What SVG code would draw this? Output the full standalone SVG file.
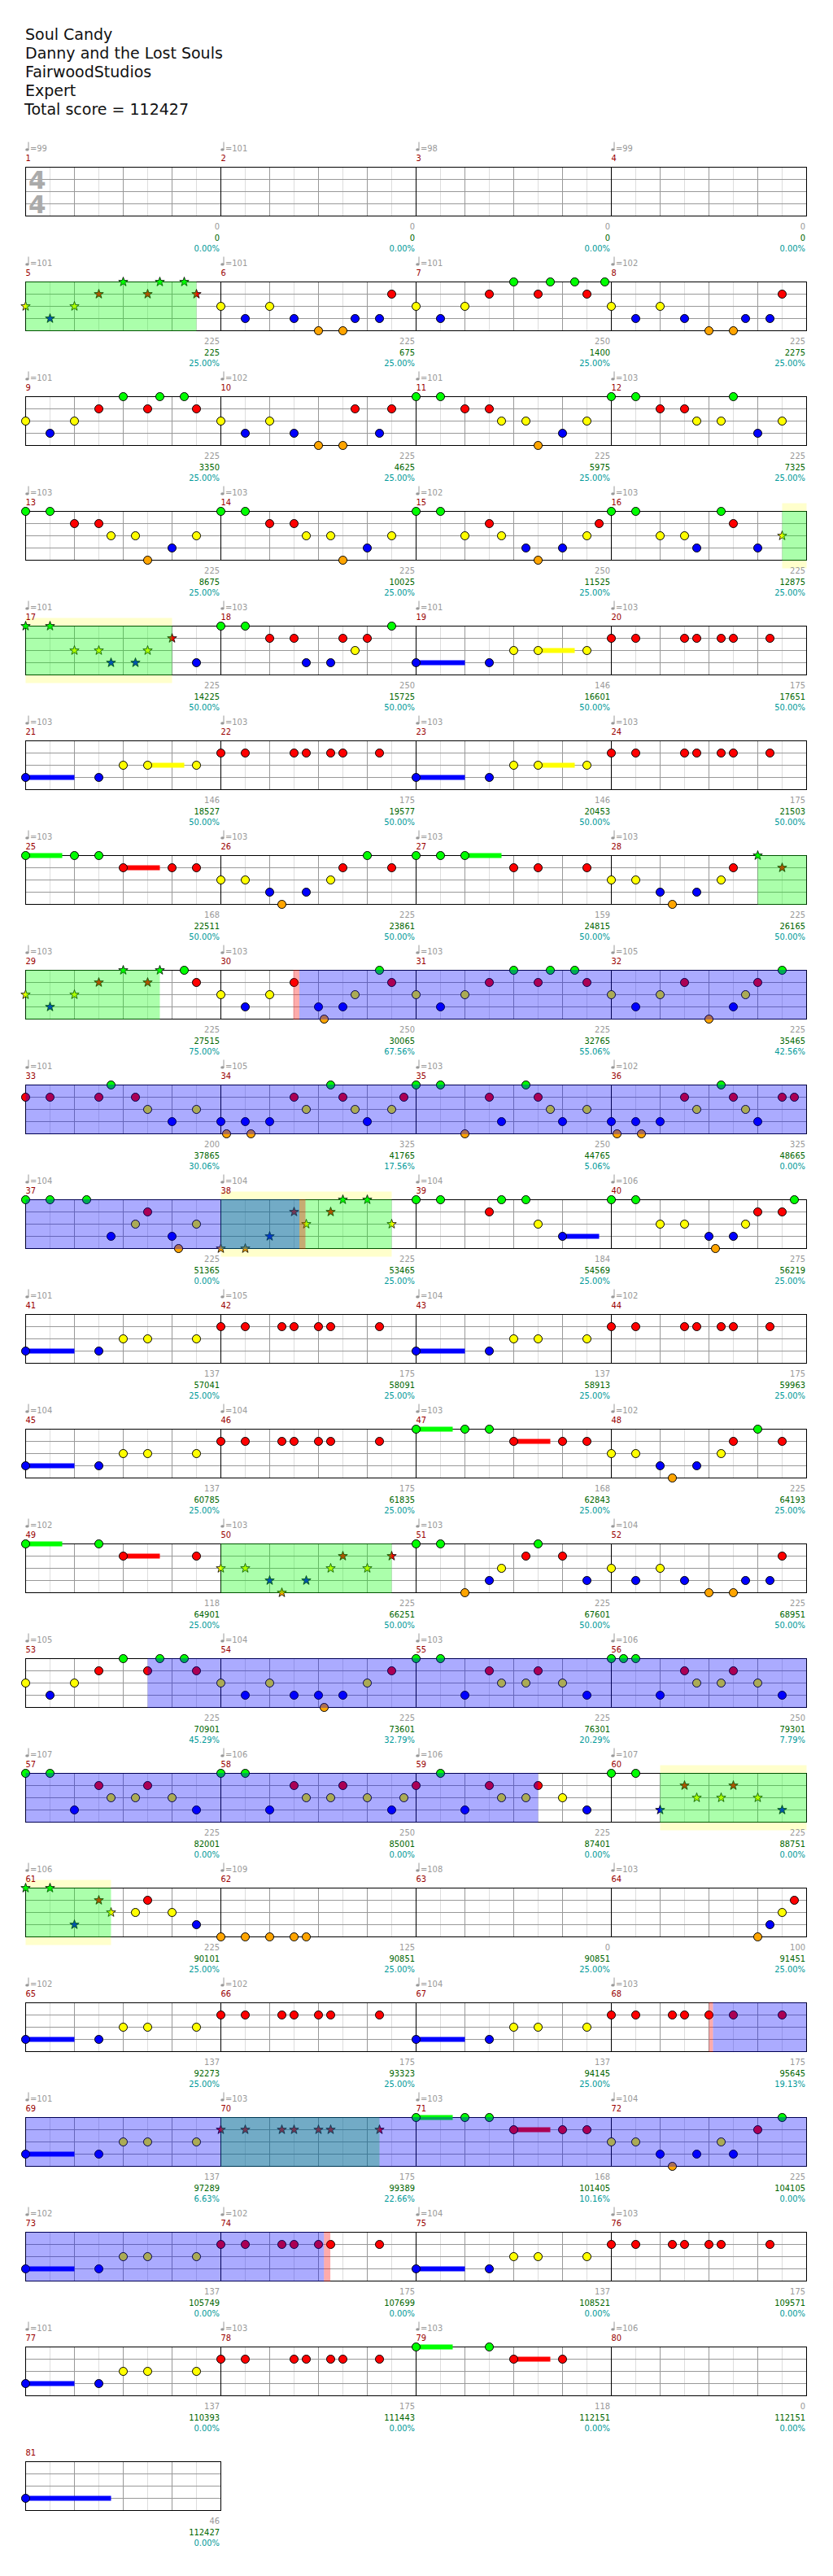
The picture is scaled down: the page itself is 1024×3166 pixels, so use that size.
<svg xmlns="http://www.w3.org/2000/svg" xmlns:xlink="http://www.w3.org/1999/xlink" width="1024" height="3166" viewBox="0 0 1024 3166">
<defs>
<style>
text{font-family:'DejaVu Sans Condensed','DejaVu Sans',sans-serif;font-stretch:condensed;font-size:11px}
.t{font-family:'DejaVu Sans',sans-serif;font-stretch:normal;font-size:19px;fill:#111}
.tp{fill:#999}
.mn{fill:#990000}
.s1{fill:#999;text-anchor:end}
.s2{fill:#006600;text-anchor:end}
.s3{fill:#009999;text-anchor:end}
.ts{font-family:'DejaVu Sans',sans-serif;font-stretch:normal;font-weight:bold;font-size:31px;fill:#aaa}
.n{stroke:#000;stroke-width:1}
.st{stroke:#000;stroke-width:0.8}
.cg{fill:#00ff00}.cr{fill:#ff0000}.cy{fill:#ffff00}.cb{fill:#0000ff}.co{fill:#ffa500}
.og{fill:#00ff00;fill-opacity:.33}
.ob{fill:#0000ff;fill-opacity:.33}
.orr{fill:#ff0000;fill-opacity:.33}
.hl{fill:#ffffcc}
</style>
<circle id="G" class="n cg" r="5"/>
<circle id="R" class="n cr" cy="15" r="5"/>
<circle id="Y" class="n cy" cy="30" r="5"/>
<circle id="B" class="n cb" cy="45" r="5"/>
<circle id="O" class="n co" cy="60" r="5"/>
<path id="sG" class="st cg" d="M0,-6L1.41,-1.94L5.71,-1.85L2.28,0.74L3.53,4.85L0,2.4L-3.53,4.85L-2.28,0.74L-5.71,-1.85L-1.41,-1.94Z"/>
<path id="sR" class="st cr" transform="translate(0,15)" d="M0,-6L1.41,-1.94L5.71,-1.85L2.28,0.74L3.53,4.85L0,2.4L-3.53,4.85L-2.28,0.74L-5.71,-1.85L-1.41,-1.94Z"/>
<path id="sY" class="st cy" transform="translate(0,30)" d="M0,-6L1.41,-1.94L5.71,-1.85L2.28,0.74L3.53,4.85L0,2.4L-3.53,4.85L-2.28,0.74L-5.71,-1.85L-1.41,-1.94Z"/>
<path id="sB" class="st cb" transform="translate(0,45)" d="M0,-6L1.41,-1.94L5.71,-1.85L2.28,0.74L3.53,4.85L0,2.4L-3.53,4.85L-2.28,0.74L-5.71,-1.85L-1.41,-1.94Z"/>
<path id="sO" class="st co" transform="translate(0,60)" d="M0,-6L1.41,-1.94L5.71,-1.85L2.28,0.74L3.53,4.85L0,2.4L-3.53,4.85L-2.28,0.74L-5.71,-1.85L-1.41,-1.94Z"/>
<g id="tq"><path d="M3.5,-31V-21.5" stroke="#999" fill="none"/><ellipse cx="1.9" cy="-21.6" rx="2.2" ry="1.6" fill="#999"/></g>
<g id="mg">
<path d="M30,0V60M90,0V60M150,0V60M210,0V60" stroke="#ddd"/>
<path d="M60,0V60M120,0V60M180,0V60M0,15H240M0,30H240M0,45H240" stroke="#999"/>
</g>
<g id="rowbase">
<rect width="960" height="60" fill="#fff"/>
<use href="#mg"/><use href="#mg" x="240"/><use href="#mg" x="480"/><use href="#mg" x="720"/>
<rect width="960" height="60" fill="none" stroke="#000"/>
<path d="M240,0V60M480,0V60M720,0V60" stroke="#000"/>
</g>
<g id="mbase">
<rect width="240" height="60" fill="#fff"/>
<use href="#mg"/>
<rect width="240" height="60" fill="none" stroke="#000"/>
</g>
</defs>
<rect width="1024" height="3166" fill="#fff"/>
<g id="header">
<text class="t" x="31" y="49">Soul Candy</text>
<text class="t" x="31" y="72">Danny and the Lost Souls</text>
<text class="t" x="31" y="95">FairwoodStudios</text>
<text class="t" x="31" y="118">Expert</text>
<text class="t" x="30" y="141">Total score = 112427</text>
</g>

<g id="row1" transform="translate(31.5,205.5)">
<use href="#rowbase"/>
<text class="ts" x="3.5" y="26.8">4</text><text class="ts" x="3.5" y="56.8">4</text>
<g id="m1"><use href="#tq"/><text class="tp" x="5.5" y="-20">=99</text><text class="mn" y="-8">1</text><text class="s1" x="238.5" y="76.5">0</text><text class="s2" x="238.5" y="90">0</text><text class="s3" x="238.5" y="103">0.00%</text></g>
<g id="m2" transform="translate(240,0)"><use href="#tq"/><text class="tp" x="5.5" y="-20">=101</text><text class="mn" y="-8">2</text><text class="s1" x="238.5" y="76.5">0</text><text class="s2" x="238.5" y="90">0</text><text class="s3" x="238.5" y="103">0.00%</text></g>
<g id="m3" transform="translate(480,0)"><use href="#tq"/><text class="tp" x="5.5" y="-20">=98</text><text class="mn" y="-8">3</text><text class="s1" x="238.5" y="76.5">0</text><text class="s2" x="238.5" y="90">0</text><text class="s3" x="238.5" y="103">0.00%</text></g>
<g id="m4" transform="translate(720,0)"><use href="#tq"/><text class="tp" x="5.5" y="-20">=99</text><text class="mn" y="-8">4</text><text class="s1" x="238.5" y="76.5">0</text><text class="s2" x="238.5" y="90">0</text><text class="s3" x="238.5" y="103">0.00%</text></g>
</g>

<g id="row2" transform="translate(31.5,346.5)">
<use href="#rowbase"/>
<g id="m5"><use href="#tq"/><text class="tp" x="5.5" y="-20">=101</text><text class="mn" y="-8">5</text>
<use href="#sY" x="0"/><use href="#sB" x="30"/><use href="#sY" x="60"/><use href="#sR" x="90"/><use href="#sG" x="120"/><use href="#sR" x="150"/><use href="#sG" x="165"/><use href="#sG" x="195"/><use href="#sR" x="210"/>
<text class="s1" x="238.5" y="76.5">225</text><text class="s2" x="238.5" y="90">225</text><text class="s3" x="238.5" y="103">25.00%</text></g>
<g id="m6" transform="translate(240,0)"><use href="#tq"/><text class="tp" x="5.5" y="-20">=101</text><text class="mn" y="-8">6</text>
<use href="#Y" x="0"/><use href="#B" x="30"/><use href="#Y" x="60"/><use href="#B" x="90"/><use href="#O" x="120"/><use href="#O" x="150"/><use href="#B" x="165"/><use href="#B" x="195"/><use href="#R" x="210"/>
<text class="s1" x="238.5" y="76.5">225</text><text class="s2" x="238.5" y="90">675</text><text class="s3" x="238.5" y="103">25.00%</text></g>
<g id="m7" transform="translate(480,0)"><use href="#tq"/><text class="tp" x="5.5" y="-20">=101</text><text class="mn" y="-8">7</text>
<use href="#Y" x="0"/><use href="#B" x="30"/><use href="#Y" x="60"/><use href="#R" x="90"/><use href="#G" x="120"/><use href="#R" x="150"/><use href="#G" x="165"/><use href="#G" x="195"/><use href="#R" x="210"/><use href="#G" x="232"/>
<text class="s1" x="238.5" y="76.5">250</text><text class="s2" x="238.5" y="90">1400</text><text class="s3" x="238.5" y="103">25.00%</text></g>
<g id="m8" transform="translate(720,0)"><use href="#tq"/><text class="tp" x="5.5" y="-20">=102</text><text class="mn" y="-8">8</text>
<use href="#Y" x="0"/><use href="#B" x="30"/><use href="#Y" x="60"/><use href="#B" x="90"/><use href="#O" x="120"/><use href="#O" x="150"/><use href="#B" x="165"/><use href="#B" x="195"/><use href="#R" x="210"/>
<text class="s1" x="238.5" y="76.5">225</text><text class="s2" x="238.5" y="90">2275</text><text class="s3" x="238.5" y="103">25.00%</text></g>
<rect class="og" x="0" y="-0.5" width="210" height="61"/>
</g>

<g id="row3" transform="translate(31.5,487.5)">
<use href="#rowbase"/>
<g id="m9"><use href="#tq"/><text class="tp" x="5.5" y="-20">=101</text><text class="mn" y="-8">9</text>
<use href="#Y" x="0"/><use href="#B" x="30"/><use href="#Y" x="60"/><use href="#R" x="90"/><use href="#G" x="120"/><use href="#R" x="150"/><use href="#G" x="165"/><use href="#G" x="195"/><use href="#R" x="210"/>
<text class="s1" x="238.5" y="76.5">225</text><text class="s2" x="238.5" y="90">3350</text><text class="s3" x="238.5" y="103">25.00%</text></g>
<g id="m10" transform="translate(240,0)"><use href="#tq"/><text class="tp" x="5.5" y="-20">=102</text><text class="mn" y="-8">10</text>
<use href="#Y" x="0"/><use href="#B" x="30"/><use href="#Y" x="60"/><use href="#B" x="90"/><use href="#O" x="120"/><use href="#O" x="150"/><use href="#R" x="165"/><use href="#B" x="195"/><use href="#R" x="210"/>
<text class="s1" x="238.5" y="76.5">225</text><text class="s2" x="238.5" y="90">4625</text><text class="s3" x="238.5" y="103">25.00%</text></g>
<g id="m11" transform="translate(480,0)"><use href="#tq"/><text class="tp" x="5.5" y="-20">=101</text><text class="mn" y="-8">11</text>
<use href="#G" x="0"/><use href="#G" x="30"/><use href="#R" x="60"/><use href="#R" x="90"/><use href="#Y" x="105"/><use href="#Y" x="135"/><use href="#O" x="150"/><use href="#B" x="180"/><use href="#Y" x="210"/>
<text class="s1" x="238.5" y="76.5">225</text><text class="s2" x="238.5" y="90">5975</text><text class="s3" x="238.5" y="103">25.00%</text></g>
<g id="m12" transform="translate(720,0)"><use href="#tq"/><text class="tp" x="5.5" y="-20">=103</text><text class="mn" y="-8">12</text>
<use href="#G" x="0"/><use href="#G" x="30"/><use href="#R" x="60"/><use href="#R" x="90"/><use href="#Y" x="105"/><use href="#Y" x="135"/><use href="#G" x="150"/><use href="#B" x="180"/><use href="#Y" x="210"/>
<text class="s1" x="238.5" y="76.5">225</text><text class="s2" x="238.5" y="90">7325</text><text class="s3" x="238.5" y="103">25.00%</text></g>
</g>

<g id="row4" transform="translate(31.5,628.5)">
<rect class="hl" x="930" y="-10" width="30" height="80"/>
<use href="#rowbase"/>
<g id="m13"><use href="#tq"/><text class="tp" x="5.5" y="-20">=103</text><text class="mn" y="-8">13</text>
<use href="#G" x="0"/><use href="#G" x="30"/><use href="#R" x="60"/><use href="#R" x="90"/><use href="#Y" x="105"/><use href="#Y" x="135"/><use href="#O" x="150"/><use href="#B" x="180"/><use href="#Y" x="210"/>
<text class="s1" x="238.5" y="76.5">225</text><text class="s2" x="238.5" y="90">8675</text><text class="s3" x="238.5" y="103">25.00%</text></g>
<g id="m14" transform="translate(240,0)"><use href="#tq"/><text class="tp" x="5.5" y="-20">=103</text><text class="mn" y="-8">14</text>
<use href="#G" x="0"/><use href="#G" x="30"/><use href="#R" x="60"/><use href="#R" x="90"/><use href="#Y" x="105"/><use href="#Y" x="135"/><use href="#O" x="150"/><use href="#B" x="180"/><use href="#Y" x="210"/>
<text class="s1" x="238.5" y="76.5">225</text><text class="s2" x="238.5" y="90">10025</text><text class="s3" x="238.5" y="103">25.00%</text></g>
<g id="m15" transform="translate(480,0)"><use href="#tq"/><text class="tp" x="5.5" y="-20">=102</text><text class="mn" y="-8">15</text>
<use href="#G" x="0"/><use href="#G" x="30"/><use href="#Y" x="60"/><use href="#R" x="90"/><use href="#Y" x="105"/><use href="#B" x="135"/><use href="#O" x="150"/><use href="#B" x="180"/><use href="#Y" x="210"/><use href="#R" x="225"/>
<text class="s1" x="238.5" y="76.5">250</text><text class="s2" x="238.5" y="90">11525</text><text class="s3" x="238.5" y="103">25.00%</text></g>
<g id="m16" transform="translate(720,0)"><use href="#tq"/><text class="tp" x="5.5" y="-20">=103</text><text class="mn" y="-8">16</text>
<use href="#G" x="0"/><use href="#G" x="30"/><use href="#Y" x="60"/><use href="#Y" x="90"/><use href="#B" x="105"/><use href="#G" x="135"/><use href="#R" x="150"/><use href="#B" x="180"/><use href="#sY" x="210"/>
<text class="s1" x="238.5" y="76.5">225</text><text class="s2" x="238.5" y="90">12875</text><text class="s3" x="238.5" y="103">25.00%</text></g>
<rect class="og" x="930" y="-0.5" width="30" height="61"/>
</g>

<g id="row5" transform="translate(31.5,769.5)">
<rect class="hl" x="0" y="-10" width="180" height="80"/>
<use href="#rowbase"/>
<g id="m17"><use href="#tq"/><text class="tp" x="5.5" y="-20">=101</text><text class="mn" y="-8">17</text>
<use href="#sG" x="0"/><use href="#sG" x="30"/><use href="#sY" x="60"/><use href="#sY" x="90"/><use href="#sB" x="105"/><use href="#sB" x="135"/><use href="#sY" x="150"/><use href="#sR" x="180"/><use href="#B" x="210"/>
<text class="s1" x="238.5" y="76.5">225</text><text class="s2" x="238.5" y="90">14225</text><text class="s3" x="238.5" y="103">50.00%</text></g>
<g id="m18" transform="translate(240,0)"><use href="#tq"/><text class="tp" x="5.5" y="-20">=103</text><text class="mn" y="-8">18</text>
<use href="#G" x="0"/><use href="#G" x="30"/><use href="#R" x="60"/><use href="#R" x="90"/><use href="#B" x="105"/><use href="#B" x="135"/><use href="#R" x="150"/><use href="#Y" x="165"/><use href="#R" x="180"/><use href="#G" x="210"/>
<text class="s1" x="238.5" y="76.5">250</text><text class="s2" x="238.5" y="90">15725</text><text class="s3" x="238.5" y="103">50.00%</text></g>
<g id="m19" transform="translate(480,0)"><use href="#tq"/><text class="tp" x="5.5" y="-20">=101</text><text class="mn" y="-8">19</text>
<rect class="cb" x="0" y="42" width="60" height="6"/><rect class="cy" x="150" y="27" width="45" height="6"/>
<use href="#B" x="0"/><use href="#B" x="90"/><use href="#Y" x="120"/><use href="#Y" x="150"/><use href="#Y" x="210"/>
<text class="s1" x="238.5" y="76.5">146</text><text class="s2" x="238.5" y="90">16601</text><text class="s3" x="238.5" y="103">50.00%</text></g>
<g id="m20" transform="translate(720,0)"><use href="#tq"/><text class="tp" x="5.5" y="-20">=103</text><text class="mn" y="-8">20</text>
<use href="#R" x="0"/><use href="#R" x="30"/><use href="#R" x="90"/><use href="#R" x="105"/><use href="#R" x="135"/><use href="#R" x="150"/><use href="#R" x="195"/>
<text class="s1" x="238.5" y="76.5">175</text><text class="s2" x="238.5" y="90">17651</text><text class="s3" x="238.5" y="103">50.00%</text></g>
<rect class="og" x="0" y="-0.5" width="180" height="61"/>
</g>

<g id="row6" transform="translate(31.5,910.5)">
<use href="#rowbase"/>
<g id="m21"><use href="#tq"/><text class="tp" x="5.5" y="-20">=103</text><text class="mn" y="-8">21</text>
<rect class="cb" x="0" y="42" width="60" height="6"/><rect class="cy" x="150" y="27" width="45" height="6"/>
<use href="#B" x="0"/><use href="#B" x="90"/><use href="#Y" x="120"/><use href="#Y" x="150"/><use href="#Y" x="210"/>
<text class="s1" x="238.5" y="76.5">146</text><text class="s2" x="238.5" y="90">18527</text><text class="s3" x="238.5" y="103">50.00%</text></g>
<g id="m22" transform="translate(240,0)"><use href="#tq"/><text class="tp" x="5.5" y="-20">=103</text><text class="mn" y="-8">22</text>
<use href="#R" x="0"/><use href="#R" x="30"/><use href="#R" x="90"/><use href="#R" x="105"/><use href="#R" x="135"/><use href="#R" x="150"/><use href="#R" x="195"/>
<text class="s1" x="238.5" y="76.5">175</text><text class="s2" x="238.5" y="90">19577</text><text class="s3" x="238.5" y="103">50.00%</text></g>
<g id="m23" transform="translate(480,0)"><use href="#tq"/><text class="tp" x="5.5" y="-20">=103</text><text class="mn" y="-8">23</text>
<rect class="cb" x="0" y="42" width="60" height="6"/><rect class="cy" x="150" y="27" width="45" height="6"/>
<use href="#B" x="0"/><use href="#B" x="90"/><use href="#Y" x="120"/><use href="#Y" x="150"/><use href="#Y" x="210"/>
<text class="s1" x="238.5" y="76.5">146</text><text class="s2" x="238.5" y="90">20453</text><text class="s3" x="238.5" y="103">50.00%</text></g>
<g id="m24" transform="translate(720,0)"><use href="#tq"/><text class="tp" x="5.5" y="-20">=103</text><text class="mn" y="-8">24</text>
<use href="#R" x="0"/><use href="#R" x="30"/><use href="#R" x="90"/><use href="#R" x="105"/><use href="#R" x="135"/><use href="#R" x="150"/><use href="#R" x="195"/>
<text class="s1" x="238.5" y="76.5">175</text><text class="s2" x="238.5" y="90">21503</text><text class="s3" x="238.5" y="103">50.00%</text></g>
</g>

<g id="row7" transform="translate(31.5,1051.5)">
<use href="#rowbase"/>
<g id="m25"><use href="#tq"/><text class="tp" x="5.5" y="-20">=103</text><text class="mn" y="-8">25</text>
<rect class="cg" x="0" y="-3" width="45" height="6"/><rect class="cr" x="120" y="12" width="45" height="6"/>
<use href="#G" x="0"/><use href="#G" x="60"/><use href="#G" x="90"/><use href="#R" x="120"/><use href="#R" x="180"/><use href="#R" x="210"/>
<text class="s1" x="238.5" y="76.5">168</text><text class="s2" x="238.5" y="90">22511</text><text class="s3" x="238.5" y="103">50.00%</text></g>
<g id="m26" transform="translate(240,0)"><use href="#tq"/><text class="tp" x="5.5" y="-20">=103</text><text class="mn" y="-8">26</text>
<use href="#Y" x="0"/><use href="#Y" x="30"/><use href="#B" x="60"/><use href="#O" x="75"/><use href="#B" x="105"/><use href="#Y" x="135"/><use href="#R" x="150"/><use href="#G" x="180"/><use href="#R" x="210"/>
<text class="s1" x="238.5" y="76.5">225</text><text class="s2" x="238.5" y="90">23861</text><text class="s3" x="238.5" y="103">50.00%</text></g>
<g id="m27" transform="translate(480,0)"><use href="#tq"/><text class="tp" x="5.5" y="-20">=103</text><text class="mn" y="-8">27</text>
<rect class="cg" x="60" y="-3" width="45" height="6"/>
<use href="#G" x="0"/><use href="#G" x="30"/><use href="#G" x="60"/><use href="#R" x="120"/><use href="#R" x="150"/><use href="#R" x="210"/>
<text class="s1" x="238.5" y="76.5">159</text><text class="s2" x="238.5" y="90">24815</text><text class="s3" x="238.5" y="103">50.00%</text></g>
<g id="m28" transform="translate(720,0)"><use href="#tq"/><text class="tp" x="5.5" y="-20">=103</text><text class="mn" y="-8">28</text>
<use href="#Y" x="0"/><use href="#Y" x="30"/><use href="#B" x="60"/><use href="#O" x="75"/><use href="#B" x="105"/><use href="#Y" x="135"/><use href="#R" x="150"/><use href="#sG" x="180"/><use href="#sR" x="210"/>
<text class="s1" x="238.5" y="76.5">225</text><text class="s2" x="238.5" y="90">26165</text><text class="s3" x="238.5" y="103">50.00%</text></g>
<rect class="og" x="900" y="-0.5" width="60" height="61"/>
</g>

<g id="row8" transform="translate(31.5,1192.5)">
<use href="#rowbase"/>
<g id="m29"><use href="#tq"/><text class="tp" x="5.5" y="-20">=103</text><text class="mn" y="-8">29</text>
<use href="#sY" x="0"/><use href="#sB" x="30"/><use href="#sY" x="60"/><use href="#sR" x="90"/><use href="#sG" x="120"/><use href="#sR" x="150"/><use href="#sG" x="165"/><use href="#G" x="195"/><use href="#R" x="210"/>
<text class="s1" x="238.5" y="76.5">225</text><text class="s2" x="238.5" y="90">27515</text><text class="s3" x="238.5" y="103">75.00%</text></g>
<g id="m30" transform="translate(240,0)"><use href="#tq"/><text class="tp" x="5.5" y="-20">=103</text><text class="mn" y="-8">30</text>
<use href="#Y" x="0"/><use href="#B" x="30"/><use href="#Y" x="60"/><use href="#R" x="90"/><use href="#B" x="120"/><use href="#O" x="127"/><use href="#B" x="150"/><use href="#Y" x="165"/><use href="#G" x="195"/><use href="#R" x="210"/>
<text class="s1" x="238.5" y="76.5">250</text><text class="s2" x="238.5" y="90">30065</text><text class="s3" x="238.5" y="103">67.56%</text></g>
<g id="m31" transform="translate(480,0)"><use href="#tq"/><text class="tp" x="5.5" y="-20">=103</text><text class="mn" y="-8">31</text>
<use href="#Y" x="0"/><use href="#B" x="30"/><use href="#Y" x="60"/><use href="#R" x="90"/><use href="#G" x="120"/><use href="#R" x="150"/><use href="#G" x="165"/><use href="#G" x="195"/><use href="#R" x="210"/>
<text class="s1" x="238.5" y="76.5">225</text><text class="s2" x="238.5" y="90">32765</text><text class="s3" x="238.5" y="103">55.06%</text></g>
<g id="m32" transform="translate(720,0)"><use href="#tq"/><text class="tp" x="5.5" y="-20">=105</text><text class="mn" y="-8">32</text>
<use href="#Y" x="0"/><use href="#B" x="30"/><use href="#Y" x="60"/><use href="#R" x="90"/><use href="#O" x="120"/><use href="#B" x="150"/><use href="#Y" x="165"/><use href="#R" x="180"/><use href="#G" x="210"/>
<text class="s1" x="238.5" y="76.5">225</text><text class="s2" x="238.5" y="90">35465</text><text class="s3" x="238.5" y="103">42.56%</text></g>
<rect class="og" x="0" y="-0.5" width="165" height="61"/>
<rect class="orr" x="329" y="-0.5" width="7.5" height="61"/>
<rect class="ob" x="336.5" y="-0.5" width="623.5" height="61"/>
</g>

<g id="row9" transform="translate(31.5,1333.5)">
<use href="#rowbase"/>
<g id="m33"><use href="#tq"/><text class="tp" x="5.5" y="-20">=101</text><text class="mn" y="-8">33</text>
<use href="#R" x="0"/><use href="#R" x="30"/><use href="#R" x="90"/><use href="#G" x="105"/><use href="#R" x="135"/><use href="#Y" x="150"/><use href="#B" x="180"/><use href="#Y" x="210"/>
<text class="s1" x="238.5" y="76.5">200</text><text class="s2" x="238.5" y="90">37865</text><text class="s3" x="238.5" y="103">30.06%</text></g>
<g id="m34" transform="translate(240,0)"><use href="#tq"/><text class="tp" x="5.5" y="-20">=105</text><text class="mn" y="-8">34</text>
<use href="#B" x="0"/><use href="#O" x="7"/><use href="#B" x="30"/><use href="#O" x="37"/><use href="#B" x="60"/><use href="#R" x="90"/><use href="#Y" x="105"/><use href="#G" x="135"/><use href="#R" x="150"/><use href="#Y" x="165"/><use href="#B" x="180"/><use href="#Y" x="210"/><use href="#R" x="225"/>
<text class="s1" x="238.5" y="76.5">325</text><text class="s2" x="238.5" y="90">41765</text><text class="s3" x="238.5" y="103">17.56%</text></g>
<g id="m35" transform="translate(480,0)"><use href="#tq"/><text class="tp" x="5.5" y="-20">=103</text><text class="mn" y="-8">35</text>
<use href="#G" x="0"/><use href="#G" x="30"/><use href="#O" x="60"/><use href="#R" x="90"/><use href="#B" x="105"/><use href="#G" x="135"/><use href="#R" x="150"/><use href="#Y" x="165"/><use href="#B" x="180"/><use href="#Y" x="210"/>
<text class="s1" x="238.5" y="76.5">250</text><text class="s2" x="238.5" y="90">44765</text><text class="s3" x="238.5" y="103">5.06%</text></g>
<g id="m36" transform="translate(720,0)"><use href="#tq"/><text class="tp" x="5.5" y="-20">=102</text><text class="mn" y="-8">36</text>
<use href="#B" x="0"/><use href="#O" x="7"/><use href="#B" x="30"/><use href="#O" x="37"/><use href="#B" x="60"/><use href="#R" x="90"/><use href="#Y" x="105"/><use href="#G" x="135"/><use href="#R" x="150"/><use href="#Y" x="165"/><use href="#B" x="180"/><use href="#R" x="210"/><use href="#R" x="225"/>
<text class="s1" x="238.5" y="76.5">325</text><text class="s2" x="238.5" y="90">48665</text><text class="s3" x="238.5" y="103">0.00%</text></g>
<rect class="ob" x="0" y="-0.5" width="960" height="61"/>
</g>

<g id="row10" transform="translate(31.5,1474.5)">
<rect class="hl" x="240" y="-10" width="210" height="80"/>
<use href="#rowbase"/>
<g id="m37"><use href="#tq"/><text class="tp" x="5.5" y="-20">=104</text><text class="mn" y="-8">37</text>
<use href="#G" x="0"/><use href="#G" x="30"/><use href="#G" x="75"/><use href="#B" x="105"/><use href="#Y" x="135"/><use href="#R" x="150"/><use href="#B" x="180"/><use href="#O" x="188"/><use href="#Y" x="210"/>
<text class="s1" x="238.5" y="76.5">225</text><text class="s2" x="238.5" y="90">51365</text><text class="s3" x="238.5" y="103">0.00%</text></g>
<g id="m38" transform="translate(240,0)"><use href="#tq"/><text class="tp" x="5.5" y="-20">=104</text><text class="mn" y="-8">38</text>
<use href="#sO" x="0"/><use href="#sO" x="30"/><use href="#sB" x="60"/><use href="#sR" x="90"/><use href="#sY" x="105"/><use href="#sR" x="135"/><use href="#sG" x="150"/><use href="#sG" x="180"/><use href="#sY" x="210"/>
<text class="s1" x="238.5" y="76.5">225</text><text class="s2" x="238.5" y="90">53465</text><text class="s3" x="238.5" y="103">25.00%</text></g>
<g id="m39" transform="translate(480,0)"><use href="#tq"/><text class="tp" x="5.5" y="-20">=104</text><text class="mn" y="-8">39</text>
<rect class="cb" x="180" y="42" width="45" height="6"/>
<use href="#G" x="0"/><use href="#G" x="30"/><use href="#R" x="90"/><use href="#G" x="105"/><use href="#G" x="135"/><use href="#Y" x="150"/><use href="#B" x="180"/>
<text class="s1" x="238.5" y="76.5">184</text><text class="s2" x="238.5" y="90">54569</text><text class="s3" x="238.5" y="103">25.00%</text></g>
<g id="m40" transform="translate(720,0)"><use href="#tq"/><text class="tp" x="5.5" y="-20">=106</text><text class="mn" y="-8">40</text>
<use href="#G" x="0"/><use href="#G" x="30"/><use href="#Y" x="60"/><use href="#Y" x="90"/><use href="#B" x="120"/><use href="#O" x="128"/><use href="#B" x="150"/><use href="#Y" x="165"/><use href="#R" x="180"/><use href="#R" x="210"/><use href="#G" x="225"/>
<text class="s1" x="238.5" y="76.5">275</text><text class="s2" x="238.5" y="90">56219</text><text class="s3" x="238.5" y="103">25.00%</text></g>
<rect class="og" x="240" y="-0.5" width="210" height="61"/>
<rect class="ob" x="0" y="-0.5" width="336.5" height="61"/>
<rect class="orr" x="336.5" y="-0.5" width="7.5" height="61"/>
</g>

<g id="row11" transform="translate(31.5,1615.5)">
<use href="#rowbase"/>
<g id="m41"><use href="#tq"/><text class="tp" x="5.5" y="-20">=101</text><text class="mn" y="-8">41</text>
<rect class="cb" x="0" y="42" width="60" height="6"/>
<use href="#B" x="0"/><use href="#B" x="90"/><use href="#Y" x="120"/><use href="#Y" x="150"/><use href="#Y" x="210"/>
<text class="s1" x="238.5" y="76.5">137</text><text class="s2" x="238.5" y="90">57041</text><text class="s3" x="238.5" y="103">25.00%</text></g>
<g id="m42" transform="translate(240,0)"><use href="#tq"/><text class="tp" x="5.5" y="-20">=105</text><text class="mn" y="-8">42</text>
<use href="#R" x="0"/><use href="#R" x="30"/><use href="#R" x="75"/><use href="#R" x="90"/><use href="#R" x="120"/><use href="#R" x="135"/><use href="#R" x="195"/>
<text class="s1" x="238.5" y="76.5">175</text><text class="s2" x="238.5" y="90">58091</text><text class="s3" x="238.5" y="103">25.00%</text></g>
<g id="m43" transform="translate(480,0)"><use href="#tq"/><text class="tp" x="5.5" y="-20">=104</text><text class="mn" y="-8">43</text>
<rect class="cb" x="0" y="42" width="60" height="6"/>
<use href="#B" x="0"/><use href="#B" x="90"/><use href="#Y" x="120"/><use href="#Y" x="150"/><use href="#Y" x="210"/>
<text class="s1" x="238.5" y="76.5">137</text><text class="s2" x="238.5" y="90">58913</text><text class="s3" x="238.5" y="103">25.00%</text></g>
<g id="m44" transform="translate(720,0)"><use href="#tq"/><text class="tp" x="5.5" y="-20">=102</text><text class="mn" y="-8">44</text>
<use href="#R" x="0"/><use href="#R" x="30"/><use href="#R" x="90"/><use href="#R" x="105"/><use href="#R" x="135"/><use href="#R" x="150"/><use href="#R" x="195"/>
<text class="s1" x="238.5" y="76.5">175</text><text class="s2" x="238.5" y="90">59963</text><text class="s3" x="238.5" y="103">25.00%</text></g>
</g>

<g id="row12" transform="translate(31.5,1756.5)">
<use href="#rowbase"/>
<g id="m45"><use href="#tq"/><text class="tp" x="5.5" y="-20">=104</text><text class="mn" y="-8">45</text>
<rect class="cb" x="0" y="42" width="60" height="6"/>
<use href="#B" x="0"/><use href="#B" x="90"/><use href="#Y" x="120"/><use href="#Y" x="150"/><use href="#Y" x="210"/>
<text class="s1" x="238.5" y="76.5">137</text><text class="s2" x="238.5" y="90">60785</text><text class="s3" x="238.5" y="103">25.00%</text></g>
<g id="m46" transform="translate(240,0)"><use href="#tq"/><text class="tp" x="5.5" y="-20">=104</text><text class="mn" y="-8">46</text>
<use href="#R" x="0"/><use href="#R" x="30"/><use href="#R" x="75"/><use href="#R" x="90"/><use href="#R" x="120"/><use href="#R" x="135"/><use href="#R" x="195"/>
<text class="s1" x="238.5" y="76.5">175</text><text class="s2" x="238.5" y="90">61835</text><text class="s3" x="238.5" y="103">25.00%</text></g>
<g id="m47" transform="translate(480,0)"><use href="#tq"/><text class="tp" x="5.5" y="-20">=103</text><text class="mn" y="-8">47</text>
<rect class="cg" x="0" y="-3" width="45" height="6"/><rect class="cr" x="120" y="12" width="45" height="6"/>
<use href="#G" x="0"/><use href="#G" x="60"/><use href="#G" x="90"/><use href="#R" x="120"/><use href="#R" x="180"/><use href="#R" x="210"/>
<text class="s1" x="238.5" y="76.5">168</text><text class="s2" x="238.5" y="90">62843</text><text class="s3" x="238.5" y="103">25.00%</text></g>
<g id="m48" transform="translate(720,0)"><use href="#tq"/><text class="tp" x="5.5" y="-20">=102</text><text class="mn" y="-8">48</text>
<use href="#Y" x="0"/><use href="#Y" x="30"/><use href="#B" x="60"/><use href="#O" x="75"/><use href="#B" x="105"/><use href="#Y" x="135"/><use href="#R" x="150"/><use href="#G" x="180"/><use href="#R" x="210"/>
<text class="s1" x="238.5" y="76.5">225</text><text class="s2" x="238.5" y="90">64193</text><text class="s3" x="238.5" y="103">25.00%</text></g>
</g>

<g id="row13" transform="translate(31.5,1897.5)">
<use href="#rowbase"/>
<g id="m49"><use href="#tq"/><text class="tp" x="5.5" y="-20">=102</text><text class="mn" y="-8">49</text>
<rect class="cg" x="0" y="-3" width="45" height="6"/><rect class="cr" x="120" y="12" width="45" height="6"/>
<use href="#G" x="0"/><use href="#G" x="90"/><use href="#R" x="120"/><use href="#R" x="210"/>
<text class="s1" x="238.5" y="76.5">118</text><text class="s2" x="238.5" y="90">64901</text><text class="s3" x="238.5" y="103">25.00%</text></g>
<g id="m50" transform="translate(240,0)"><use href="#tq"/><text class="tp" x="5.5" y="-20">=103</text><text class="mn" y="-8">50</text>
<use href="#sY" x="0"/><use href="#sY" x="30"/><use href="#sB" x="60"/><use href="#sO" x="75"/><use href="#sB" x="105"/><use href="#sY" x="135"/><use href="#sR" x="150"/><use href="#sY" x="180"/><use href="#sR" x="210"/>
<text class="s1" x="238.5" y="76.5">225</text><text class="s2" x="238.5" y="90">66251</text><text class="s3" x="238.5" y="103">50.00%</text></g>
<g id="m51" transform="translate(480,0)"><use href="#tq"/><text class="tp" x="5.5" y="-20">=103</text><text class="mn" y="-8">51</text>
<use href="#G" x="0"/><use href="#G" x="30"/><use href="#O" x="60"/><use href="#B" x="90"/><use href="#Y" x="105"/><use href="#R" x="135"/><use href="#G" x="150"/><use href="#R" x="180"/><use href="#B" x="210"/>
<text class="s1" x="238.5" y="76.5">225</text><text class="s2" x="238.5" y="90">67601</text><text class="s3" x="238.5" y="103">50.00%</text></g>
<g id="m52" transform="translate(720,0)"><use href="#tq"/><text class="tp" x="5.5" y="-20">=104</text><text class="mn" y="-8">52</text>
<use href="#Y" x="0"/><use href="#B" x="30"/><use href="#Y" x="60"/><use href="#B" x="90"/><use href="#O" x="120"/><use href="#O" x="150"/><use href="#B" x="165"/><use href="#B" x="195"/><use href="#R" x="210"/>
<text class="s1" x="238.5" y="76.5">225</text><text class="s2" x="238.5" y="90">68951</text><text class="s3" x="238.5" y="103">50.00%</text></g>
<rect class="og" x="240" y="-0.5" width="210" height="61"/>
</g>

<g id="row14" transform="translate(31.5,2038.5)">
<use href="#rowbase"/>
<g id="m53"><use href="#tq"/><text class="tp" x="5.5" y="-20">=105</text><text class="mn" y="-8">53</text>
<use href="#Y" x="0"/><use href="#B" x="30"/><use href="#Y" x="60"/><use href="#R" x="90"/><use href="#G" x="120"/><use href="#R" x="150"/><use href="#G" x="165"/><use href="#G" x="195"/><use href="#R" x="210"/>
<text class="s1" x="238.5" y="76.5">225</text><text class="s2" x="238.5" y="90">70901</text><text class="s3" x="238.5" y="103">45.29%</text></g>
<g id="m54" transform="translate(240,0)"><use href="#tq"/><text class="tp" x="5.5" y="-20">=104</text><text class="mn" y="-8">54</text>
<use href="#Y" x="0"/><use href="#B" x="30"/><use href="#Y" x="60"/><use href="#B" x="90"/><use href="#B" x="120"/><use href="#O" x="127"/><use href="#B" x="150"/><use href="#Y" x="180"/><use href="#R" x="210"/>
<text class="s1" x="238.5" y="76.5">225</text><text class="s2" x="238.5" y="90">73601</text><text class="s3" x="238.5" y="103">32.79%</text></g>
<g id="m55" transform="translate(480,0)"><use href="#tq"/><text class="tp" x="5.5" y="-20">=103</text><text class="mn" y="-8">55</text>
<use href="#G" x="0"/><use href="#G" x="30"/><use href="#B" x="60"/><use href="#R" x="90"/><use href="#Y" x="105"/><use href="#Y" x="135"/><use href="#R" x="150"/><use href="#Y" x="180"/><use href="#B" x="210"/>
<text class="s1" x="238.5" y="76.5">225</text><text class="s2" x="238.5" y="90">76301</text><text class="s3" x="238.5" y="103">20.29%</text></g>
<g id="m56" transform="translate(720,0)"><use href="#tq"/><text class="tp" x="5.5" y="-20">=106</text><text class="mn" y="-8">56</text>
<use href="#G" x="0"/><use href="#G" x="15"/><use href="#G" x="30"/><use href="#B" x="60"/><use href="#R" x="90"/><use href="#Y" x="105"/><use href="#Y" x="135"/><use href="#R" x="150"/><use href="#Y" x="180"/><use href="#B" x="210"/>
<text class="s1" x="238.5" y="76.5">250</text><text class="s2" x="238.5" y="90">79301</text><text class="s3" x="238.5" y="103">7.79%</text></g>
<rect class="ob" x="150" y="-0.5" width="810" height="61"/>
</g>

<g id="row15" transform="translate(31.5,2179.5)">
<rect class="hl" x="780" y="-10" width="180" height="80"/>
<use href="#rowbase"/>
<g id="m57"><use href="#tq"/><text class="tp" x="5.5" y="-20">=107</text><text class="mn" y="-8">57</text>
<use href="#G" x="0"/><use href="#G" x="30"/><use href="#B" x="60"/><use href="#R" x="90"/><use href="#Y" x="105"/><use href="#Y" x="135"/><use href="#R" x="150"/><use href="#Y" x="180"/><use href="#B" x="210"/>
<text class="s1" x="238.5" y="76.5">225</text><text class="s2" x="238.5" y="90">82001</text><text class="s3" x="238.5" y="103">0.00%</text></g>
<g id="m58" transform="translate(240,0)"><use href="#tq"/><text class="tp" x="5.5" y="-20">=106</text><text class="mn" y="-8">58</text>
<use href="#G" x="0"/><use href="#G" x="30"/><use href="#B" x="60"/><use href="#R" x="90"/><use href="#Y" x="105"/><use href="#Y" x="135"/><use href="#R" x="150"/><use href="#Y" x="180"/><use href="#B" x="210"/><use href="#Y" x="225"/>
<text class="s1" x="238.5" y="76.5">250</text><text class="s2" x="238.5" y="90">85001</text><text class="s3" x="238.5" y="103">0.00%</text></g>
<g id="m59" transform="translate(480,0)"><use href="#tq"/><text class="tp" x="5.5" y="-20">=106</text><text class="mn" y="-8">59</text>
<use href="#R" x="0"/><use href="#G" x="30"/><use href="#B" x="60"/><use href="#R" x="90"/><use href="#Y" x="105"/><use href="#Y" x="135"/><use href="#R" x="150"/><use href="#Y" x="180"/><use href="#B" x="210"/>
<text class="s1" x="238.5" y="76.5">225</text><text class="s2" x="238.5" y="90">87401</text><text class="s3" x="238.5" y="103">0.00%</text></g>
<g id="m60" transform="translate(720,0)"><use href="#tq"/><text class="tp" x="5.5" y="-20">=107</text><text class="mn" y="-8">60</text>
<use href="#G" x="0"/><use href="#G" x="30"/><use href="#sB" x="60"/><use href="#sR" x="90"/><use href="#sY" x="105"/><use href="#sY" x="135"/><use href="#sR" x="150"/><use href="#sY" x="180"/><use href="#sB" x="210"/>
<text class="s1" x="238.5" y="76.5">225</text><text class="s2" x="238.5" y="90">88751</text><text class="s3" x="238.5" y="103">0.00%</text></g>
<rect class="ob" x="0" y="-0.5" width="630" height="61"/>
<rect class="og" x="780" y="-0.5" width="180" height="61"/>
</g>

<g id="row16" transform="translate(31.5,2320.5)">
<rect class="hl" x="0" y="-10" width="105" height="80"/>
<use href="#rowbase"/>
<g id="m61"><use href="#tq"/><text class="tp" x="5.5" y="-20">=106</text><text class="mn" y="-8">61</text>
<use href="#sG" x="0"/><use href="#sG" x="30"/><use href="#sB" x="60"/><use href="#sR" x="90"/><use href="#sY" x="105"/><use href="#Y" x="135"/><use href="#R" x="150"/><use href="#Y" x="180"/><use href="#B" x="210"/>
<text class="s1" x="238.5" y="76.5">225</text><text class="s2" x="238.5" y="90">90101</text><text class="s3" x="238.5" y="103">25.00%</text></g>
<g id="m62" transform="translate(240,0)"><use href="#tq"/><text class="tp" x="5.5" y="-20">=109</text><text class="mn" y="-8">62</text>
<use href="#O" x="0"/><use href="#O" x="30"/><use href="#O" x="60"/><use href="#O" x="90"/><use href="#O" x="105"/>
<text class="s1" x="238.5" y="76.5">125</text><text class="s2" x="238.5" y="90">90851</text><text class="s3" x="238.5" y="103">25.00%</text></g>
<g id="m63" transform="translate(480,0)"><use href="#tq"/><text class="tp" x="5.5" y="-20">=108</text><text class="mn" y="-8">63</text>
<text class="s1" x="238.5" y="76.5">0</text><text class="s2" x="238.5" y="90">90851</text><text class="s3" x="238.5" y="103">25.00%</text></g>
<g id="m64" transform="translate(720,0)"><use href="#tq"/><text class="tp" x="5.5" y="-20">=103</text><text class="mn" y="-8">64</text>
<use href="#O" x="180"/><use href="#B" x="195"/><use href="#Y" x="210"/><use href="#R" x="225"/>
<text class="s1" x="238.5" y="76.5">100</text><text class="s2" x="238.5" y="90">91451</text><text class="s3" x="238.5" y="103">25.00%</text></g>
<rect class="og" x="0" y="-0.5" width="105" height="61"/>
</g>

<g id="row17" transform="translate(31.5,2461.5)">
<use href="#rowbase"/>
<g id="m65"><use href="#tq"/><text class="tp" x="5.5" y="-20">=102</text><text class="mn" y="-8">65</text>
<rect class="cb" x="0" y="42" width="60" height="6"/>
<use href="#B" x="0"/><use href="#B" x="90"/><use href="#Y" x="120"/><use href="#Y" x="150"/><use href="#Y" x="210"/>
<text class="s1" x="238.5" y="76.5">137</text><text class="s2" x="238.5" y="90">92273</text><text class="s3" x="238.5" y="103">25.00%</text></g>
<g id="m66" transform="translate(240,0)"><use href="#tq"/><text class="tp" x="5.5" y="-20">=102</text><text class="mn" y="-8">66</text>
<use href="#R" x="0"/><use href="#R" x="30"/><use href="#R" x="75"/><use href="#R" x="90"/><use href="#R" x="120"/><use href="#R" x="135"/><use href="#R" x="195"/>
<text class="s1" x="238.5" y="76.5">175</text><text class="s2" x="238.5" y="90">93323</text><text class="s3" x="238.5" y="103">25.00%</text></g>
<g id="m67" transform="translate(480,0)"><use href="#tq"/><text class="tp" x="5.5" y="-20">=104</text><text class="mn" y="-8">67</text>
<rect class="cb" x="0" y="42" width="60" height="6"/>
<use href="#B" x="0"/><use href="#B" x="90"/><use href="#Y" x="120"/><use href="#Y" x="150"/><use href="#Y" x="210"/>
<text class="s1" x="238.5" y="76.5">137</text><text class="s2" x="238.5" y="90">94145</text><text class="s3" x="238.5" y="103">25.00%</text></g>
<g id="m68" transform="translate(720,0)"><use href="#tq"/><text class="tp" x="5.5" y="-20">=103</text><text class="mn" y="-8">68</text>
<use href="#R" x="0"/><use href="#R" x="30"/><use href="#R" x="75"/><use href="#R" x="90"/><use href="#R" x="120"/><use href="#R" x="150"/><use href="#R" x="210"/>
<text class="s1" x="238.5" y="76.5">175</text><text class="s2" x="238.5" y="90">95645</text><text class="s3" x="238.5" y="103">19.13%</text></g>
<rect class="orr" x="840" y="-0.5" width="5" height="61"/>
<rect class="ob" x="845" y="-0.5" width="115" height="61"/>
</g>

<g id="row18" transform="translate(31.5,2602.5)">
<use href="#rowbase"/>
<g id="m69"><use href="#tq"/><text class="tp" x="5.5" y="-20">=101</text><text class="mn" y="-8">69</text>
<rect class="cb" x="0" y="42" width="60" height="6"/>
<use href="#B" x="0"/><use href="#B" x="90"/><use href="#Y" x="120"/><use href="#Y" x="150"/><use href="#Y" x="210"/>
<text class="s1" x="238.5" y="76.5">137</text><text class="s2" x="238.5" y="90">97289</text><text class="s3" x="238.5" y="103">6.63%</text></g>
<g id="m70" transform="translate(240,0)"><use href="#tq"/><text class="tp" x="5.5" y="-20">=103</text><text class="mn" y="-8">70</text>
<use href="#sR" x="0"/><use href="#sR" x="30"/><use href="#sR" x="75"/><use href="#sR" x="90"/><use href="#sR" x="120"/><use href="#sR" x="135"/><use href="#sR" x="195"/>
<text class="s1" x="238.5" y="76.5">175</text><text class="s2" x="238.5" y="90">99389</text><text class="s3" x="238.5" y="103">22.66%</text></g>
<g id="m71" transform="translate(480,0)"><use href="#tq"/><text class="tp" x="5.5" y="-20">=103</text><text class="mn" y="-8">71</text>
<rect class="cg" x="0" y="-3" width="45" height="6"/><rect class="cr" x="120" y="12" width="45" height="6"/>
<use href="#G" x="0"/><use href="#G" x="60"/><use href="#G" x="90"/><use href="#R" x="120"/><use href="#R" x="180"/><use href="#R" x="210"/>
<text class="s1" x="238.5" y="76.5">168</text><text class="s2" x="238.5" y="90">101405</text><text class="s3" x="238.5" y="103">10.16%</text></g>
<g id="m72" transform="translate(720,0)"><use href="#tq"/><text class="tp" x="5.5" y="-20">=104</text><text class="mn" y="-8">72</text>
<use href="#Y" x="0"/><use href="#Y" x="30"/><use href="#B" x="60"/><use href="#O" x="75"/><use href="#B" x="105"/><use href="#Y" x="135"/><use href="#B" x="150"/><use href="#R" x="180"/><use href="#G" x="210"/>
<text class="s1" x="238.5" y="76.5">225</text><text class="s2" x="238.5" y="90">104105</text><text class="s3" x="238.5" y="103">0.00%</text></g>
<rect class="og" x="240" y="-0.5" width="195" height="61"/>
<rect class="ob" x="0" y="-0.5" width="960" height="61"/>
</g>

<g id="row19" transform="translate(31.5,2743.5)">
<use href="#rowbase"/>
<g id="m73"><use href="#tq"/><text class="tp" x="5.5" y="-20">=102</text><text class="mn" y="-8">73</text>
<rect class="cb" x="0" y="42" width="60" height="6"/>
<use href="#B" x="0"/><use href="#B" x="90"/><use href="#Y" x="120"/><use href="#Y" x="150"/><use href="#Y" x="210"/>
<text class="s1" x="238.5" y="76.5">137</text><text class="s2" x="238.5" y="90">105749</text><text class="s3" x="238.5" y="103">0.00%</text></g>
<g id="m74" transform="translate(240,0)"><use href="#tq"/><text class="tp" x="5.5" y="-20">=102</text><text class="mn" y="-8">74</text>
<use href="#R" x="0"/><use href="#R" x="30"/><use href="#R" x="75"/><use href="#R" x="90"/><use href="#R" x="120"/><use href="#R" x="135"/><use href="#R" x="195"/>
<text class="s1" x="238.5" y="76.5">175</text><text class="s2" x="238.5" y="90">107699</text><text class="s3" x="238.5" y="103">0.00%</text></g>
<g id="m75" transform="translate(480,0)"><use href="#tq"/><text class="tp" x="5.5" y="-20">=104</text><text class="mn" y="-8">75</text>
<rect class="cb" x="0" y="42" width="60" height="6"/>
<use href="#B" x="0"/><use href="#B" x="90"/><use href="#Y" x="120"/><use href="#Y" x="150"/><use href="#Y" x="210"/>
<text class="s1" x="238.5" y="76.5">137</text><text class="s2" x="238.5" y="90">108521</text><text class="s3" x="238.5" y="103">0.00%</text></g>
<g id="m76" transform="translate(720,0)"><use href="#tq"/><text class="tp" x="5.5" y="-20">=103</text><text class="mn" y="-8">76</text>
<use href="#R" x="0"/><use href="#R" x="30"/><use href="#R" x="75"/><use href="#R" x="90"/><use href="#R" x="120"/><use href="#R" x="135"/><use href="#R" x="195"/>
<text class="s1" x="238.5" y="76.5">175</text><text class="s2" x="238.5" y="90">109571</text><text class="s3" x="238.5" y="103">0.00%</text></g>
<rect class="ob" x="0" y="-0.5" width="366.8" height="61"/>
<rect class="orr" x="366.8" y="-0.5" width="7.8" height="61"/>
</g>

<g id="row20" transform="translate(31.5,2884.5)">
<use href="#rowbase"/>
<g id="m77"><use href="#tq"/><text class="tp" x="5.5" y="-20">=101</text><text class="mn" y="-8">77</text>
<rect class="cb" x="0" y="42" width="60" height="6"/>
<use href="#B" x="0"/><use href="#B" x="90"/><use href="#Y" x="120"/><use href="#Y" x="150"/><use href="#Y" x="210"/>
<text class="s1" x="238.5" y="76.5">137</text><text class="s2" x="238.5" y="90">110393</text><text class="s3" x="238.5" y="103">0.00%</text></g>
<g id="m78" transform="translate(240,0)"><use href="#tq"/><text class="tp" x="5.5" y="-20">=103</text><text class="mn" y="-8">78</text>
<use href="#R" x="0"/><use href="#R" x="30"/><use href="#R" x="90"/><use href="#R" x="105"/><use href="#R" x="135"/><use href="#R" x="150"/><use href="#R" x="195"/>
<text class="s1" x="238.5" y="76.5">175</text><text class="s2" x="238.5" y="90">111443</text><text class="s3" x="238.5" y="103">0.00%</text></g>
<g id="m79" transform="translate(480,0)"><use href="#tq"/><text class="tp" x="5.5" y="-20">=103</text><text class="mn" y="-8">79</text>
<rect class="cg" x="0" y="-3" width="45" height="6"/><rect class="cr" x="120" y="12" width="45" height="6"/>
<use href="#G" x="0"/><use href="#G" x="90"/><use href="#R" x="120"/><use href="#R" x="180"/>
<text class="s1" x="238.5" y="76.5">118</text><text class="s2" x="238.5" y="90">112151</text><text class="s3" x="238.5" y="103">0.00%</text></g>
<g id="m80" transform="translate(720,0)"><use href="#tq"/><text class="tp" x="5.5" y="-20">=106</text><text class="mn" y="-8">80</text>
<text class="s1" x="238.5" y="76.5">0</text><text class="s2" x="238.5" y="90">112151</text><text class="s3" x="238.5" y="103">0.00%</text></g>
</g>

<g id="row21" transform="translate(31.5,3025.5)">
<use href="#mbase"/>
<g id="m81"><text class="mn" y="-8">81</text>
<rect class="cb" x="0" y="42" width="105" height="6"/>
<use href="#B" x="0"/>
<text class="s1" x="238.5" y="76.5">46</text><text class="s2" x="238.5" y="90">112427</text><text class="s3" x="238.5" y="103">0.00%</text></g>
</g>
</svg>
